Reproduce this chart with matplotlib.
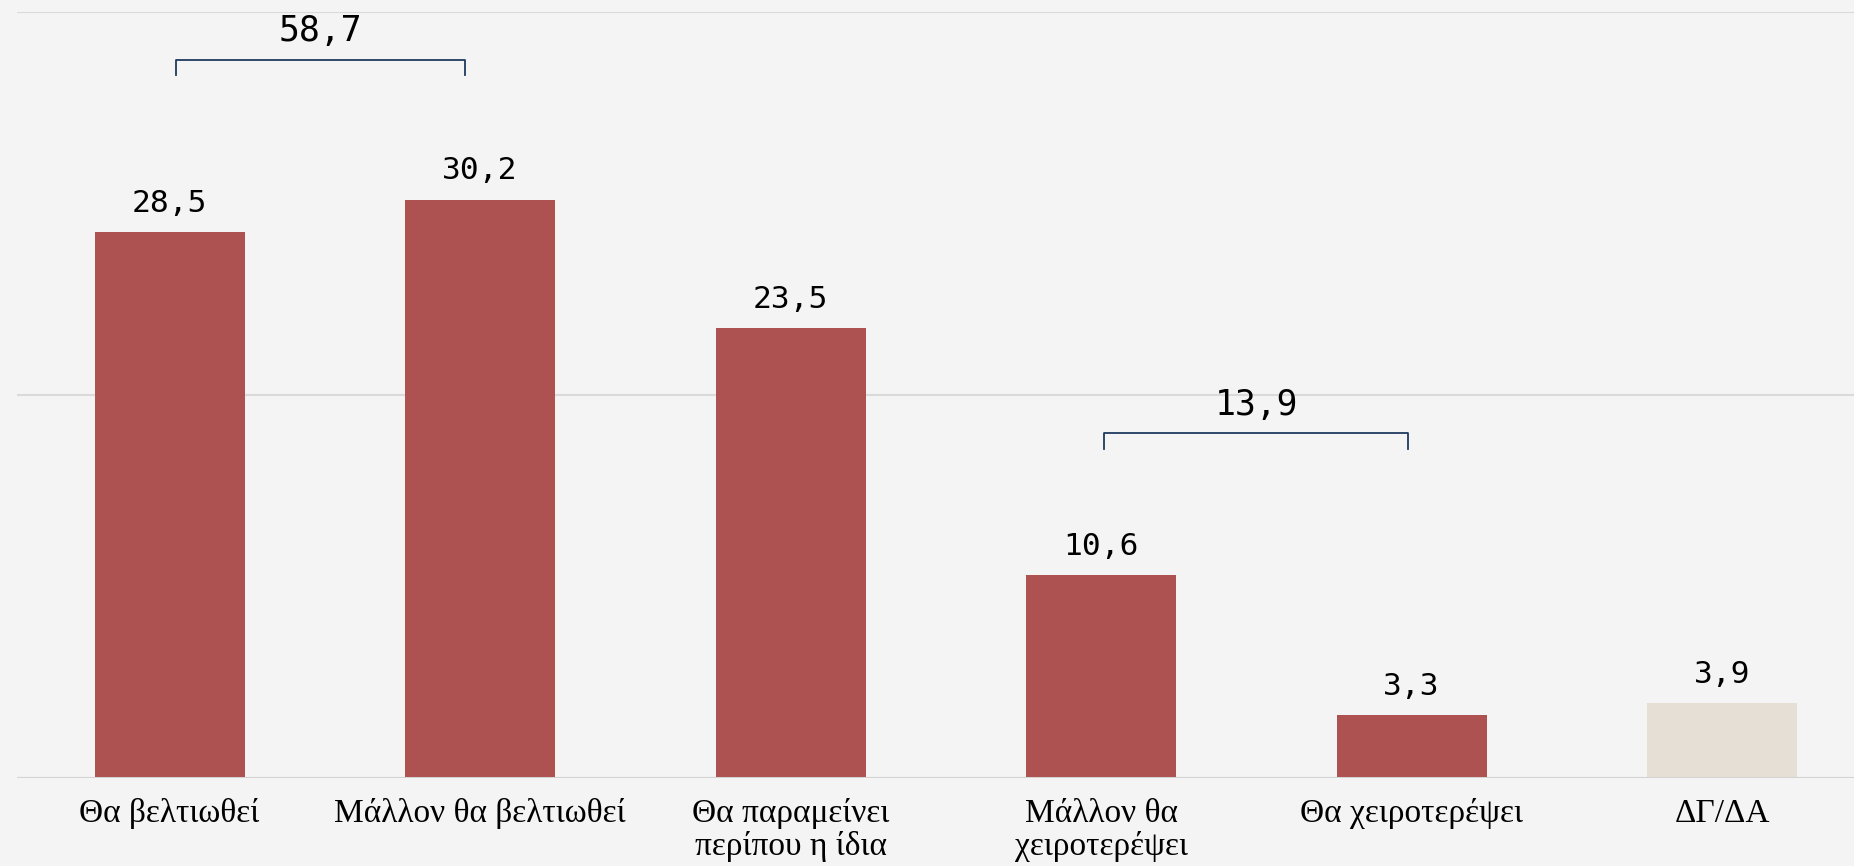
import matplotlib
matplotlib.use("Agg")
import matplotlib.pyplot as plt

# -----------------------------------------------------------
# Data
# -----------------------------------------------------------

categories = [
    "Θα βελτιωθεί",
    "Μάλλον θα βελτιωθεί",
    "Θα παραμείνει\nπερίπου η ίδια",
    "Μάλλον θα\nχειροτερέψει",
    "Θα χειροτερέψει",
    "ΔΓ/ΔΑ",
]
values = [28.5, 30.2, 23.5, 10.6, 3.3, 3.9]
value_labels = ["28,5", "30,2", "23,5", "10,6", "3,3", "3,9"]

# grouped totals shown above brackets
group_spans = [(0, 1), (3, 4)]
group_labels = ["58,7", "13,9"]

# -----------------------------------------------------------
# Style
# -----------------------------------------------------------

bg = "#f4f4f4"
bar_color = "#ad5250"
dk_color = "#e6dfd6"
bracket_color = "#1f3a5f"
colors = [bar_color] * 5 + [dk_color]

fig = plt.figure(figsize=(18.54, 8.66), dpi=100, facecolor=bg)
ax = fig.add_axes([0.0089, 0.1016, 0.9911, 0.8845], facecolor=bg)

x = list(range(len(categories)))
ax.bar(x, values, width=0.483, color=colors, zorder=2)

ax.set_xlim(-0.493, 5.425)
ax.set_ylim(0, 40)
ax.set_yticks([0, 20, 40])
ax.yaxis.grid(True, color="#dadada", linewidth=1.5, zorder=0)
ax.tick_params(axis="y", left=False, labelleft=False)
ax.tick_params(axis="x", bottom=False, pad=11)
for s in ax.spines.values():
    s.set_visible(False)
ax.axhline(0, color="#d3d3d3", linewidth=2.2, zorder=3)

ax.set_xticks(x)
ax.set_xticklabels(categories, fontsize=24, family="Liberation Serif",
                   linespacing=1.08)

# value labels
for xi, v, lab in zip(x, values, value_labels):
    ax.text(xi, v + 1.5, lab, ha="center", va="center",
            fontsize=22.5, family="DejaVu Sans Mono", color="black")

# brackets with group totals
bracket_y = [37.5, 18.0]
tick_len = 0.8
offsets = [(0.02, -0.05), (0.01, -0.01)]
for (a, b), lab, by, (oa, ob) in zip(group_spans, group_labels, bracket_y, offsets):
    xa, xb = a + oa, b + ob
    ax.plot([xa, xa, xb, xb], [by - tick_len, by, by, by - tick_len],
            color=bracket_color, linewidth=1.3, zorder=4)
    ax.text((xa + xb) / 2, by + 1.5, lab, ha="center", va="center",
            fontsize=25, family="DejaVu Sans Mono", color="black")

fig.savefig("out.png", dpi=100, facecolor=bg)
